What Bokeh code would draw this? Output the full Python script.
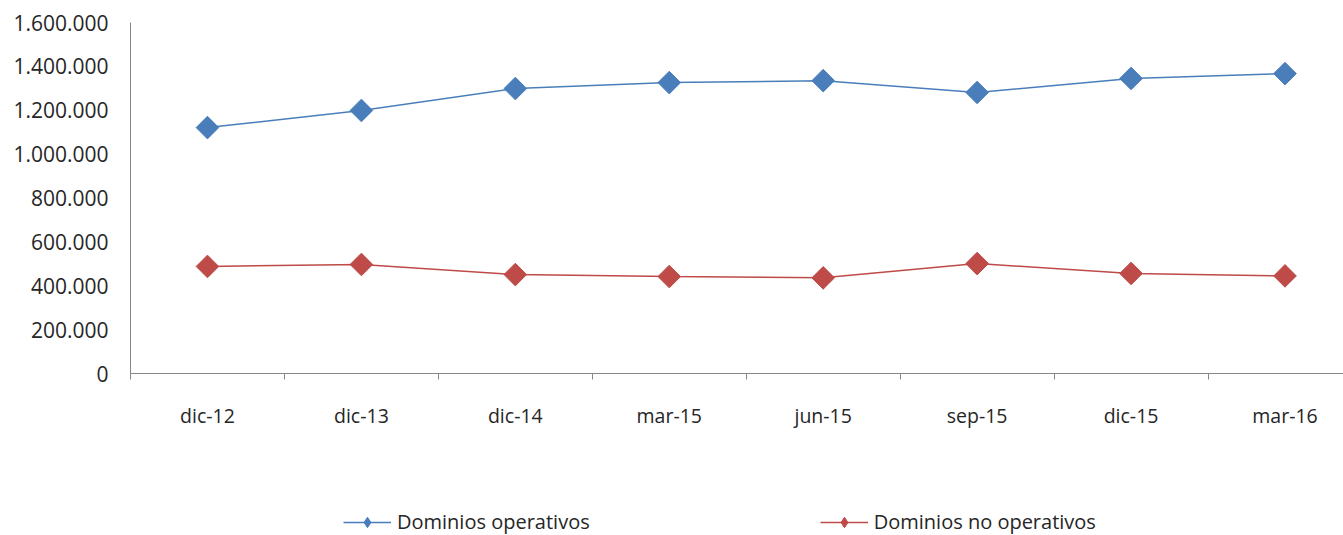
import math
from bokeh.plotting import figure
from bokeh.layouts import column
from bokeh.models import Range1d, FixedTicker, CustomJSTickFormatter, Legend, LegendItem, ColumnDataSource
from bokeh.embed import file_html
from bokeh.resources import INLINE

categories = ["dic-12", "dic-13", "dic-14", "mar-15", "jun-15", "sep-15", "dic-15", "mar-16"]
operativos = [1121000, 1199000, 1299000, 1326000, 1335000, 1281000, 1345000, 1367000]
no_operativos = [488000, 497000, 451000, 442000, 436000, 501000, 456000, 445000]
series_names = ["Dominios operativos", "Dominios no operativos"]

idx = list(range(len(categories)))
src = ColumnDataSource(dict(x=idx, op=operativos, nop=no_operativos))

FONT = "Open Sans"
BLUE = "#4A7EBB"
RED = "#BE4B48"
TXT = "#262626"
AX = "#868686"

p = figure(width=1343, height=440, output_backend="svg", toolbar_location=None,
           x_range=Range1d(-0.5, 7.38), y_range=Range1d(0, 1600000),
           min_border_left=130, min_border_top=22, min_border_bottom=67, min_border_right=0)
p.outline_line_color = None
p.grid.visible = False

p.line("x", "op", source=src, line_color=BLUE, line_width=1.5)
p.scatter("x", "op", source=src, marker="square", angle=math.pi / 4, size=16,
          fill_color=BLUE, line_color=BLUE)
p.line("x", "nop", source=src, line_color=RED, line_width=1.5)
p.scatter("x", "nop", source=src, marker="square", angle=math.pi / 4, size=16,
          fill_color=RED, line_color=RED)

# x axis
xa = p.xaxis[0]
xa.ticker = FixedTicker(ticks=idx, minor_ticks=[i - 0.5 for i in idx] + [len(idx) - 0.5])
xa.major_label_overrides = {i: c for i, c in enumerate(categories)}
xa.major_tick_out = 0
xa.major_tick_in = 0
xa.minor_tick_out = 6
xa.minor_tick_in = 0
xa.minor_tick_line_color = AX
xa.axis_line_color = AX
xa.major_label_standoff = 22
xa.major_label_text_font = FONT
xa.major_label_text_font_size = "19.5px"
xa.major_label_text_color = TXT

# y axis
ya = p.yaxis[0]
ya.ticker = FixedTicker(ticks=list(range(0, 1600001, 200000)))
ya.formatter = CustomJSTickFormatter(code='return Math.round(tick).toString().replace(/\\B(?=(\\d{3})+(?!\\d))/g, ".");')
ya.major_tick_out = 0
ya.major_tick_in = 0
ya.minor_tick_line_color = None
ya.axis_line_color = AX
ya.major_label_standoff = 22
ya.major_label_text_font = FONT
ya.major_label_text_font_size = "21px"
ya.major_label_text_color = TXT

# legend strip (series drawn off-view so only the legend shows)
pl = figure(width=1343, height=95, output_backend="svg", toolbar_location=None,
            x_range=Range1d(100, 101), y_range=Range1d(-10, -9),
            x_axis_type=None, y_axis_type=None,
            min_border_left=0, min_border_right=0, min_border_top=0, min_border_bottom=0)
pl.outline_line_color = None
pl.grid.visible = False
l1 = pl.line("x", "op", source=src, line_color=BLUE, line_width=1.5)
m1 = pl.scatter("x", "op", source=src, marker="diamond", size=16, fill_color=BLUE, line_color=BLUE)
l2 = pl.line("x", "nop", source=src, line_color=RED, line_width=1.5)
m2 = pl.scatter("x", "nop", source=src, marker="diamond", size=16, fill_color=RED, line_color=RED)

legend = Legend(items=[LegendItem(label=series_names[0], renderers=[l1, m1]),
                       LegendItem(label=series_names[1], renderers=[l2, m2])],
                orientation="horizontal", location=(213, 0),
                glyph_width=48, glyph_height=26, spacing=230, padding=2, margin=0,
                label_text_font=FONT, label_text_font_size="20px", label_text_color=TXT,
                label_standoff=6, border_line_color=None, background_fill_alpha=0)
pl.add_layout(legend, "center")

layout = column(p, pl, spacing=0)
open("out.html", "w").write(file_html(layout, INLINE))
